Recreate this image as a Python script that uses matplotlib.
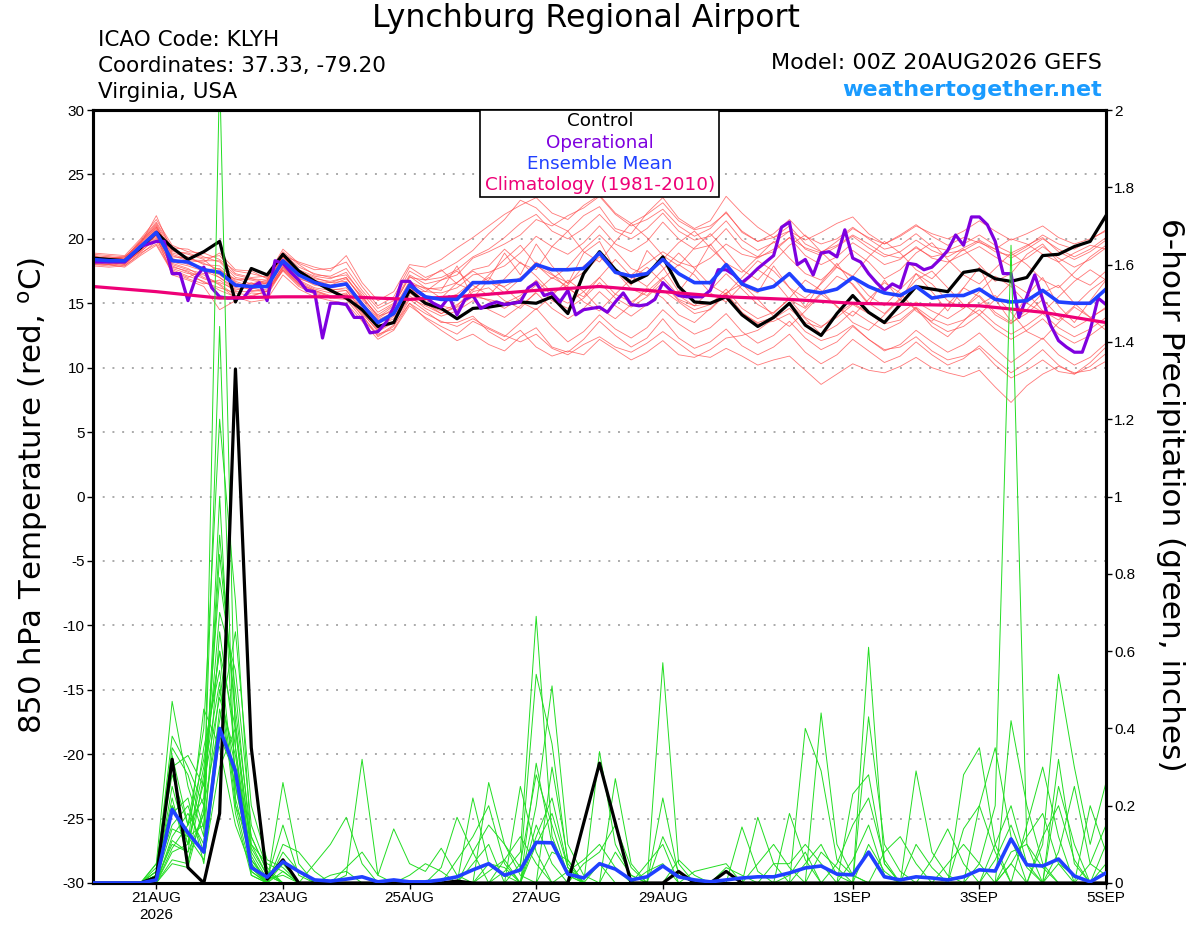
import numpy as np
import matplotlib
matplotlib.use("Agg")
import matplotlib.pyplot as plt
from matplotlib.patches import Rectangle

plt.rcParams['font.family'] = ['Liberation Sans', 'DejaVu Sans']
plt.rcParams['mathtext.default'] = 'regular'
plt.rcParams['mathtext.fontset'] = 'dejavusans'
HDR = ['DejaVu Sans']

# ---------------- data ----------------
title = "Lynchburg Regional Airport"
info_lines = ["ICAO Code: KLYH", "Coordinates: 37.33, -79.20", "Virginia, USA"]
model_text = "Model: 00Z 20AUG2026 GEFS"
site_text = "weathertogether.net"

n6 = 65  # 6-hourly steps, 20AUG 00Z .. 05SEP 00Z
xtick_days = [1, 3, 5, 7, 9, 12, 14, 16]
xtick_labels = ["21AUG\n2026", "23AUG", "25AUG", "27AUG", "29AUG", "1SEP", "3SEP", "5SEP"]
temp_ticks = [-30, -25, -20, -15, -10, -5, 0, 5, 10, 15, 20, 25, 30]
precip_ticks = [0, 0.2, 0.4, 0.6, 0.8, 1.0, 1.2, 1.4, 1.6, 1.8, 2.0]
precip_ticklabels = ["0", "0.2", "0.4", "0.6", "0.8", "1", "1.2", "1.4", "1.6", "1.8", "2"]

control_temp = [18.5, 18.4, 18.3, 19.3, 20.5, 19.3, 18.4, 19.0, 19.8, 15.1, 17.7, 17.2, 18.8,
                17.5, 16.7, 16.0, 15.4, 14.5, 13.2, 13.5, 16.0, 15.0, 14.6, 13.8, 14.6, 14.7,
                14.9, 15.1, 15.0, 15.5, 14.2, 17.3, 19.0, 17.6, 16.6, 17.2, 18.6, 16.3, 15.1,
                15.0, 15.5, 14.1, 13.2, 13.9, 15.0, 13.3, 12.5, 14.2, 15.6, 14.3, 13.5, 14.9,
                16.3, 16.1, 15.9, 17.4, 17.6, 16.9, 16.7, 17.0, 18.7, 18.8, 19.4, 19.8, 21.8]

mean_temp = [18.4, 18.3, 18.3, 19.4, 20.5, 18.3, 18.2, 17.6, 17.4, 16.4, 16.3, 16.3, 18.3,
             17.2, 16.6, 16.3, 16.5, 14.9, 13.5, 14.2, 16.4, 15.5, 15.3, 15.3, 16.6, 16.6,
             16.7, 16.8, 18.0, 17.6, 17.6, 17.7, 18.9, 17.4, 17.1, 17.3, 18.4, 17.3, 16.6,
             16.6, 18.0, 16.5, 16.0, 16.3, 17.3, 16.0, 15.8, 16.1, 17.0, 16.3, 15.8, 15.6,
             16.3, 15.4, 15.6, 15.6, 16.1, 15.3, 15.1, 15.2, 16.0, 15.1, 15.0, 15.0, 16.1]

# operational run, 3-hourly (129 values)
oper_temp = [18.2, 18.2, 18.2, 18.2, 18.2, 18.8, 19.4, 19.6, 19.8, 19.8, 17.3, 17.3, 15.2,
             17.0, 17.8, 16.2, 15.5, 15.4, 15.4, 15.4, 16.2, 16.6, 15.2, 18.3, 18.1, 17.4,
             16.8, 16.0, 15.9, 12.3, 15.0, 15.0, 14.9, 13.9, 13.9, 12.7, 12.8, 13.5, 14.7,
             16.7, 16.7, 15.9, 15.5, 15.0, 14.7, 15.5, 14.1, 15.3, 15.6, 14.6, 14.9, 15.1,
             14.9, 15.0, 15.1, 16.2, 16.6, 15.6, 15.8, 15.1, 16.0, 14.1, 14.5, 14.6, 14.7,
             14.3, 15.1, 15.8, 14.9, 14.8, 14.9, 15.3, 16.6, 16.0, 15.6, 15.5, 15.5, 15.5,
             16.0, 17.6, 17.6, 17.2, 16.6, 17.1, 17.7, 18.2, 18.7, 20.9, 21.3, 18.0, 18.4,
             17.2, 18.9, 19.0, 18.6, 20.7, 18.5, 18.2, 17.3, 16.6, 16.0, 16.5, 16.2, 18.1,
             18.0, 17.6, 17.8, 18.4, 19.1, 20.3, 19.5, 21.7, 21.7, 21.1, 19.8, 17.3, 17.3,
             13.9, 15.5, 17.2, 15.3, 13.3, 12.1, 11.6, 11.2, 11.2, 12.9, 15.4, 14.9]

clim_days = [0, 1, 2, 3, 4, 5, 6, 7, 8, 9, 10, 11, 12, 13, 14, 15, 16]
clim_temp = [16.3, 15.9, 15.4, 15.5, 15.5, 15.3, 15.6, 16.0, 16.3, 15.9, 15.5, 15.3, 15.0,
             14.9, 14.8, 14.3, 13.5]

member_temps = [
    [18.6, 18.5, 18.4, 19.8, 21.0, 18.9, 18.6, 18.0, 17.9, 16.8, 16.9, 16.8, 18.9,
     17.8, 17.3, 17.0, 17.2, 15.8, 14.3, 15.0, 17.2, 16.5, 16.8, 17.2, 18.5, 19.0,
     19.6, 20.3, 21.5, 21.0, 21.8, 22.4, 23.3, 21.9, 21.0, 21.5, 22.3, 21.0, 20.2,
     20.8, 22.1, 20.5, 19.8, 20.1, 21.0, 19.6, 19.0, 19.5, 20.3, 19.6, 18.8, 18.5,
     19.3, 18.6, 18.9, 19.1, 19.8, 19.0, 18.7, 19.4, 20.3, 19.6, 19.2, 19.9, 20.7],
    [18.2, 18.0, 18.1, 19.0, 20.0, 17.8, 17.5, 16.9, 16.5, 15.6, 15.4, 15.6, 17.6,
     16.5, 15.9, 15.5, 15.6, 14.0, 12.6, 13.0, 15.0, 14.2, 13.6, 13.2, 13.8, 13.1,
     12.5, 12.0, 12.6, 11.5, 11.0, 11.8, 12.4, 11.6, 11.2, 11.9, 12.8, 11.9, 11.0,
     10.8, 11.5, 10.9, 10.2, 10.6, 10.9, 9.8, 8.7, 9.5, 10.3, 9.8, 9.6, 10.1,
     10.8, 10.0, 9.6, 9.3, 9.8, 8.5, 7.3, 8.6, 9.5, 10.1, 9.6, 9.8, 10.5],
    [18.8, 18.7, 18.6, 19.6, 21.8, 19.0, 18.9, 18.5, 18.7, 17.3, 17.0, 17.1, 19.2,
     18.1, 17.6, 17.7, 18.2, 16.3, 14.8, 15.5, 17.8, 17.0, 17.5, 18.2, 19.1, 20.4,
     21.5, 23.0, 22.4, 21.2, 20.6, 21.8, 22.5, 20.8, 20.4, 22.0, 23.2, 21.6, 20.8,
     21.4, 23.3, 22.0, 20.9, 20.1, 20.6, 19.9, 20.5, 21.2, 21.7, 20.4, 19.6, 20.3,
     21.1, 20.2, 19.5, 20.1, 19.7, 19.2, 20.0, 19.6, 18.8, 18.2, 18.9, 19.5, 19.2],
    [18.0, 17.9, 18.0, 19.2, 20.2, 17.2, 16.8, 16.3, 14.5, 15.2, 15.8, 15.7, 17.7,
     16.6, 16.0, 15.5, 15.8, 14.2, 12.9, 13.6, 15.6, 14.6, 14.0, 14.4, 15.2, 14.5,
     13.9, 14.8, 15.8, 14.6, 13.8, 14.6, 15.9, 14.8, 14.0, 14.9, 16.0, 15.1, 14.2,
     14.5, 15.7, 14.2, 13.5, 13.9, 15.0, 13.8, 12.6, 13.3, 14.4, 13.6, 12.9, 13.5,
     14.6, 13.5, 12.8, 13.2, 14.1, 13.0, 12.2, 12.9, 13.8, 12.6, 11.9, 12.5, 13.4],
    [18.5, 18.4, 18.3, 19.5, 20.8, 18.5, 18.0, 17.8, 17.0, 16.0, 16.4, 16.7, 18.6,
     17.4, 16.9, 16.7, 17.0, 15.3, 13.8, 14.6, 16.7, 16.1, 16.2, 16.6, 17.6, 17.9,
     19.2, 18.1, 17.6, 19.4, 20.6, 19.0, 18.2, 19.8, 21.2, 20.1, 18.7, 17.9, 19.3,
     20.4, 19.1, 17.6, 16.8, 18.2, 19.5, 20.3, 19.0, 17.8, 17.1, 18.6, 19.8, 18.9,
     17.6, 16.9, 18.1, 19.2, 18.0, 16.7, 17.3, 18.8, 19.6, 18.2, 17.0, 16.4, 17.5],
    [18.3, 18.2, 18.2, 19.1, 20.4, 18.0, 17.6, 17.3, 17.5, 16.5, 16.0, 15.9, 17.9,
     16.8, 16.2, 16.0, 16.2, 14.6, 13.2, 13.8, 16.1, 15.2, 14.8, 14.5, 15.9, 16.2,
     15.2, 14.6, 15.9, 17.0, 16.3, 15.1, 14.4, 15.7, 16.9, 17.8, 16.6, 15.3, 14.8,
     16.0, 17.3, 16.1, 14.9, 14.2, 15.4, 16.8, 16.0, 14.7, 14.0, 15.3, 16.6, 15.8,
     14.4, 13.6, 14.9, 16.2, 15.5, 14.1, 13.4, 14.5, 15.8, 16.4, 15.0, 13.9, 14.6],
    [17.9, 17.8, 17.9, 18.8, 19.8, 17.6, 17.1, 16.7, 16.0, 15.5, 15.1, 15.3, 17.2,
     16.1, 15.5, 15.2, 15.0, 13.6, 12.2, 12.9, 14.8, 13.9, 13.2, 12.6, 13.6, 13.0,
     12.4, 13.5, 14.6, 13.2, 12.0, 12.8, 14.1, 13.0, 12.3, 13.1, 14.5, 13.4, 12.6,
     13.1, 14.2, 12.8, 11.9, 12.5, 13.6, 12.3, 11.4, 12.0, 13.2, 12.2, 11.3, 11.8,
     12.9, 12.0, 11.2, 11.8, 12.7, 11.5, 10.4, 11.3, 12.3, 11.0, 10.2, 10.8, 11.9],
    [18.7, 18.6, 18.5, 19.9, 21.3, 19.3, 19.2, 18.6, 18.2, 17.0, 16.8, 16.5, 18.5,
     17.3, 16.8, 16.4, 16.9, 15.5, 14.0, 14.4, 16.6, 15.9, 15.8, 16.2, 17.2, 17.4,
     17.9, 18.9, 20.2, 19.4, 18.8, 19.7, 21.0, 19.6, 19.0, 19.8, 21.3, 20.0, 19.2,
     19.5, 20.8, 19.3, 18.6, 19.0, 20.1, 18.7, 18.0, 18.6, 19.7, 18.9, 18.0, 18.4,
     19.4, 18.5, 18.2, 18.8, 19.4, 18.6, 17.9, 18.5, 19.4, 18.5, 17.8, 18.4, 19.3],
    [18.1, 18.0, 18.2, 19.3, 20.6, 18.2, 17.9, 17.5, 17.0, 16.2, 16.6, 16.2, 18.0,
     16.9, 16.5, 16.1, 16.0, 14.4, 13.0, 14.0, 16.0, 15.9, 16.8, 17.5, 16.4, 15.6,
     16.9, 18.2, 17.1, 15.8, 16.4, 17.9, 18.8, 17.5, 16.1, 15.6, 16.9, 18.0, 17.2,
     15.8, 15.1, 16.4, 17.6, 16.8, 15.3, 14.6, 15.8, 17.1, 16.5, 15.0, 14.2, 15.4,
     16.8, 17.5, 16.2, 14.9, 14.1, 15.3, 16.6, 15.8, 14.4, 13.7, 14.8, 16.0, 16.9],
    [18.4, 18.3, 18.1, 19.0, 20.1, 17.9, 17.4, 16.6, 16.2, 15.8, 15.6, 15.9, 17.5,
     16.3, 15.7, 15.4, 15.3, 13.8, 12.5, 13.3, 15.0, 13.8, 12.9, 12.1, 12.6, 11.8,
     11.3, 12.4, 13.1, 11.6, 11.2, 12.2, 13.6, 12.5, 11.6, 12.3, 13.8, 12.3, 11.5,
     12.0, 13.0, 11.7, 11.0, 11.6, 12.6, 11.2, 10.3, 11.0, 12.2, 11.3, 10.4, 10.9,
     12.0, 11.0, 10.2, 10.7, 11.7, 10.6, 9.6, 10.4, 11.4, 10.2, 9.5, 10.1, 11.1],
    [18.9, 18.8, 18.7, 20.0, 21.5, 19.5, 19.0, 18.9, 18.4, 17.5, 17.3, 17.0, 19.0,
     18.0, 17.2, 17.1, 17.7, 16.0, 14.6, 15.2, 17.5, 16.8, 17.0, 17.6, 18.6, 19.2,
     20.1, 21.2, 21.9, 20.6, 20.0, 20.8, 21.9, 20.6, 20.0, 20.8, 22.0, 20.6, 19.9,
     20.2, 21.4, 19.9, 19.1, 19.7, 20.6, 19.2, 18.7, 19.4, 20.2, 19.3, 18.6, 19.0,
     19.9, 19.1, 18.6, 19.3, 19.9, 19.2, 18.5, 19.2, 20.0, 19.2, 18.6, 19.2, 20.1],
    [18.2, 18.1, 17.9, 18.9, 19.6, 17.5, 17.0, 17.6, 17.7, 16.6, 16.1, 16.4, 18.1,
     17.1, 16.6, 16.3, 16.6, 15.1, 13.6, 14.2, 16.3, 15.0, 14.2, 14.8, 16.1, 17.0,
     16.2, 15.1, 14.5, 15.6, 16.8, 15.9, 14.6, 13.8, 14.9, 16.2, 15.4, 14.1, 13.5,
     14.6, 15.8, 16.5, 15.3, 14.0, 13.2, 14.4, 15.7, 14.8, 13.5, 12.9, 14.1, 15.3,
     14.6, 13.2, 12.4, 13.6, 14.9, 15.6, 14.3, 12.8, 12.2, 13.5, 14.7, 13.9, 12.9],
    [18.6, 18.4, 18.6, 19.7, 21.1, 18.7, 18.3, 18.2, 18.9, 17.6, 17.5, 16.9, 18.8,
     17.6, 17.1, 16.9, 17.4, 15.6, 13.9, 14.8, 17.1, 16.2, 16.0, 17.9, 15.4, 16.8,
     18.9, 17.2, 19.6, 17.9, 16.5, 18.9, 19.8, 17.6, 16.4, 19.1, 17.8, 15.9, 17.5,
     19.6, 18.0, 16.4, 15.8, 17.9, 16.2, 14.7, 16.6, 18.1, 16.4, 14.9, 16.8, 15.2,
     17.3, 15.9, 14.4, 16.2, 17.8, 15.3, 13.6, 15.6, 17.0, 14.8, 13.5, 15.2, 16.8],
    [18.0, 18.0, 17.8, 18.7, 19.5, 17.4, 16.9, 16.5, 16.8, 15.9, 15.9, 16.1, 17.8,
     16.7, 16.1, 15.8, 16.0, 14.5, 13.1, 13.6, 15.8, 14.9, 14.4, 14.9, 15.7, 15.2,
     14.6, 15.4, 16.4, 15.2, 14.6, 15.4, 16.6, 15.4, 14.7, 15.5, 16.6, 15.2, 14.5,
     14.9, 16.1, 14.6, 13.8, 14.3, 15.3, 13.9, 13.2, 13.9, 14.9, 14.2, 13.4, 13.7,
     14.7, 13.8, 13.3, 13.7, 14.5, 13.4, 12.6, 13.3, 14.2, 13.1, 12.4, 13.0, 13.9],
    [18.5, 18.6, 18.4, 19.6, 20.9, 18.8, 18.4, 18.3, 18.3, 17.2, 16.9, 16.6, 18.7,
     18.2, 17.8, 17.5, 18.7, 16.6, 15.2, 15.9, 18.0, 17.8, 18.4, 19.3, 20.1, 21.0,
     21.9, 22.6, 23.2, 22.0, 21.5, 22.6, 23.4, 22.0, 21.2, 21.9, 22.8, 21.4, 20.7,
     21.0, 22.0, 20.6, 19.8, 20.4, 21.5, 20.2, 19.6, 20.0, 20.9, 20.0, 19.2, 19.5,
     20.4, 19.4, 19.1, 19.6, 20.3, 19.5, 18.9, 19.5, 20.1, 19.0, 18.4, 19.0, 19.9],
    [18.3, 18.1, 18.3, 19.2, 20.3, 18.1, 17.7, 17.0, 16.6, 16.1, 16.2, 15.9, 17.8,
     16.5, 16.0, 15.6, 15.4, 14.1, 12.4, 13.2, 15.3, 14.4, 13.5, 13.5, 14.0, 12.8,
     12.1, 12.9, 11.6, 10.9, 11.3, 11.0, 12.2, 11.4, 10.6, 11.2, 12.1, 11.0, 10.8,
     11.4, 12.3, 12.5, 12.9, 13.8, 14.6, 13.5, 13.1, 14.2, 15.0, 14.3, 13.6, 14.2,
     15.1, 14.4, 13.8, 14.6, 15.6, 14.3, 13.5, 14.2, 15.3, 14.0, 13.1, 13.8, 14.7],
    [18.7, 18.4, 18.5, 19.8, 21.2, 19.1, 18.8, 18.4, 17.3, 16.9, 16.5, 16.8, 18.6,
     17.5, 17.0, 16.6, 17.0, 15.4, 14.1, 14.9, 17.0, 16.8, 17.6, 16.5, 16.0, 17.2,
     18.4, 19.5, 18.0, 16.9, 17.8, 19.2, 20.3, 19.1, 17.7, 17.2, 18.4, 19.7, 20.6,
     19.3, 18.1, 17.4, 18.6, 19.8, 18.5, 17.3, 16.8, 17.9, 19.1, 18.2, 16.9, 17.6,
     18.9, 19.7, 18.4, 17.2, 16.5, 17.7, 18.9, 18.0, 16.8, 16.2, 17.4, 18.6, 19.5],
    [18.4, 18.3, 18.4, 19.4, 20.7, 18.4, 18.1, 17.7, 17.2, 16.3, 16.5, 16.5, 18.2,
     17.0, 16.4, 16.2, 16.4, 14.8, 13.4, 14.1, 16.2, 15.5, 15.3, 15.7, 16.7, 16.6,
     16.3, 17.0, 17.9, 17.2, 16.6, 17.4, 18.6, 17.5, 17.2, 18.1, 19.0, 18.2, 17.8,
     18.5, 19.6, 18.8, 18.5, 19.2, 20.1, 19.3, 18.9, 19.8, 20.8, 20.1, 19.6, 20.2,
     21.0, 20.4, 20.0, 20.6, 21.4, 20.6, 19.9, 20.4, 21.0, 20.1, 19.6, 20.0, 20.6],
    [18.1, 18.2, 18.0, 19.1, 20.3, 17.7, 17.3, 17.2, 16.4, 15.4, 15.5, 16.0, 17.6,
     16.4, 15.8, 15.4, 15.7, 14.3, 12.8, 13.5, 15.4, 14.8, 14.2, 14.7, 15.5, 15.3,
     15.0, 15.6, 16.8, 15.6, 15.0, 15.9, 17.0, 15.7, 15.1, 15.9, 17.0, 15.6, 14.8,
     15.0, 15.8, 14.3, 13.4, 13.6, 14.2, 12.8, 12.1, 12.5, 13.3, 12.2, 11.4, 11.6,
     12.4, 11.3, 10.6, 10.9, 11.5, 10.2, 9.2, 9.8, 10.6, 9.7, 9.5, 10.4, 11.6],
    [18.6, 18.5, 18.6, 19.7, 20.9, 18.6, 18.5, 18.1, 17.6, 16.7, 16.3, 16.6, 18.4,
     17.2, 16.7, 16.6, 16.7, 15.0, 13.7, 14.3, 16.5, 16.2, 15.4, 16.6, 17.5, 16.7,
     15.8, 16.9, 18.2, 17.3, 16.1, 15.5, 17.0, 18.4, 17.1, 16.3, 17.6, 18.9, 17.7,
     16.4, 15.7, 17.0, 18.3, 17.5, 16.2, 15.4, 16.5, 17.8, 17.0, 15.6, 14.8, 16.1,
     17.3, 16.5, 15.2, 14.6, 15.9, 17.1, 16.3, 15.0, 14.3, 15.5, 16.7, 17.6, 16.8],
]

control_precip = [0, 0, 0, 0, 0.015, 0.32, 0.04, 0, 0.18, 1.33, 0.35, 0.01, 0.06,
                  0, 0, 0, 0, 0, 0, 0, 0, 0, 0, 0.005, 0, 0,
                  0, 0, 0, 0, 0, 0.155, 0.31, 0.155, 0, 0, 0, 0.03, 0,
                  0, 0.03, 0, 0, 0, 0, 0, 0, 0, 0, 0, 0, 0,
                  0, 0, 0, 0, 0, 0, 0, 0, 0, 0, 0, 0, 0]

mean_precip = [0, 0, 0, 0, 0.008, 0.19, 0.13, 0.08, 0.40, 0.29, 0.04, 0.015, 0.055,
               0.03, 0.008, 0.005, 0.01, 0.016, 0.003, 0.008, 0.003, 0.003, 0.008, 0.016, 0.034, 0.05,
               0.02, 0.034, 0.105, 0.104, 0.023, 0.013, 0.05, 0.036, 0.008, 0.016, 0.044, 0.016, 0.008,
               0.003, 0.008, 0.013, 0.016, 0.016, 0.026, 0.039, 0.044, 0.023, 0.021, 0.08, 0.016, 0.008,
               0.016, 0.013, 0.008, 0.016, 0.034, 0.031, 0.114, 0.047, 0.044, 0.062, 0.018, 0.003, 0.026]

# ensemble member precipitation: {6-hour step: inches}, all other steps are 0
member_precip = [
    {4: .05, 5: .47, 6: .25, 7: .12, 8: 2.1, 9: .35, 10: .06, 11: .01, 12: .02, 26: .03, 27: .08,
     28: .69, 29: .12, 30: .02, 45: .05, 46: .1, 47: .02, 58: .05},
    {4: .03, 5: .38, 6: .3, 7: .2, 8: 1.44, 9: .2, 10: .03, 12: .26, 13: .05, 24: .05, 25: .1,
     28: .2, 29: .51, 30: .1, 31: .02, 49: .61, 50: .05, 61: .05, 62: .02},
    {4: .02, 5: .33, 6: .15, 7: .4, 8: 1.2, 9: .73, 10: .1, 11: .02, 16: .02, 17: .32, 18: .02,
     19: .14, 20: .05, 21: .03, 22: .09, 23: .02, 36: .57, 37: .05, 56: .05, 57: .2, 58: 1.65, 59: .1},
    {4: .04, 5: .3, 6: .33, 7: .25, 8: .79, 9: .5, 10: .08, 11: .01, 12: .15, 13: .02, 25: .26,
     26: .1, 27: .04, 28: .54, 29: .36, 30: .05, 46: .44, 47: .1, 48: .02, 60: .1, 61: .54,
     62: .3, 63: .1, 64: .26},
    {4: .01, 5: .25, 6: .1, 7: .3, 8: .6, 9: .4, 10: .04, 14: .05, 15: .1, 16: .17, 17: .05,
     32: .34, 33: .1, 34: .02, 45: .4, 46: .29, 47: .06, 48: .02, 55: .28, 56: .35, 57: .1},
    {4: .02, 5: .2, 6: .12, 7: .15, 8: .5, 9: .3, 10: .12, 11: .03, 24: .22, 25: .05, 26: .02,
     28: .31, 29: .1, 30: .03, 33: .27, 34: .05, 49: .43, 50: .1, 51: .03, 58: .42, 59: .2, 60: .05},
    {4: .03, 5: .15, 6: .2, 7: .08, 8: .45, 9: .25, 10: .06, 12: .05, 22: .04, 23: .17, 24: .08,
     36: .22, 37: .02, 48: .23, 49: .28, 50: .05, 61: .32, 62: .05},
    {4: .01, 5: .1, 6: .08, 7: .35, 8: .55, 9: .2, 10: .1, 11: .05, 12: .03, 27: .25, 28: .08,
     42: .17, 43: .05, 52: .29, 53: .08, 54: .02, 63: .2, 64: .08},
    {5: .08, 6: .1, 7: .45, 8: .35, 9: .15, 10: .04, 29: .3, 30: .06, 36: .12, 37: .03, 44: .18,
     45: .06, 57: .1, 58: .2, 59: .05, 61: .25, 62: .1},
    {4: .02, 5: .22, 6: .06, 7: .18, 8: .9, 9: .42, 10: .07, 12: .1, 13: .08, 14: .03, 25: .05,
     26: .04, 28: .12, 29: .22, 30: .04, 41: .145, 42: .03, 55: .14, 56: .2, 57: .08, 64: .05},
    {5: .12, 6: .18, 7: .1, 8: .65, 9: .35, 10: .02, 31: .05, 32: .08, 33: .15, 34: .04, 47: .05,
     48: .15, 49: .22, 50: .06, 59: .15, 60: .3, 61: .12},
    {4: .05, 5: .28, 6: .15, 7: .22, 8: .7, 9: .55, 10: .15, 11: .04, 16: .04, 17: .08, 18: .02,
     26: .06, 27: .12, 28: .05, 38: .03, 39: .04, 40: .05, 53: .06, 54: .14, 55: .05},
    {5: .05, 6: .04, 7: .2, 8: .42, 9: .65, 10: .2, 11: .06, 12: .04, 24: .08, 25: .15, 26: .1,
     27: .02, 35: .05, 36: .1, 43: .05, 44: .05, 45: .1, 46: .05, 58: .08, 59: .1, 60: .04},
    {4: .02, 5: .18, 6: .22, 7: .05, 8: .38, 9: .28, 10: .03, 29: .08, 30: .06, 32: .05, 50: .08,
     51: .12, 52: .05, 56: .2, 57: .35, 58: .12},
    {4: .03, 5: .35, 6: .28, 7: .14, 8: 1.0, 9: .25, 10: .05, 12: .08, 13: .03, 20: .02, 21: .05,
     22: .03, 28: .15, 29: .05, 46: .08, 47: .04, 61: .08, 62: .25, 63: .05, 64: .02},
    {5: .06, 6: .05, 7: .28, 8: .52, 9: .18, 10: .02, 23: .06, 24: .12, 25: .2, 26: .05, 33: .08,
     34: .02, 40: .04, 41: .02, 49: .1, 50: .03, 58: .05, 59: .12, 60: .18, 61: .05},
    {4: .01, 5: .14, 6: .12, 7: .06, 8: .3, 9: .4, 10: .09, 11: .02, 27: .05, 28: .28, 29: .15,
     30: .02, 37: .06, 38: .02, 52: .1, 53: .04, 63: .05, 64: .15},
    {5: .09, 6: .15, 7: .32, 8: .6, 9: .22, 10: .05, 15: .02, 16: .03, 30: .03, 31: .06, 32: .1,
     33: .04, 44: .02, 45: .08, 57: .06, 58: .15, 59: .04},
    {4: .02, 5: .2, 6: .1, 7: .26, 8: .48, 9: .33, 10: .04, 12: .03, 25: .03, 26: .06, 35: .03,
     36: .05, 48: .06, 49: .15, 50: .02, 60: .12, 61: .2, 62: .06},
    {5: .11, 6: .08, 7: .18, 8: .85, 9: .45, 10: .12, 11: .03, 28: .1, 29: .18, 30: .04, 42: .05,
     43: .1, 44: .04, 54: .05, 55: .1, 56: .05, 64: .1},
]

# ---------------- styles ----------------
RED = '#FF4A4A'
GREEN = '#22DD22'
BLACK = '#000000'
PURPLE = '#7F00DF'
BLUE = '#2040FF'
PINK = '#EE0077'
SITE = '#1A9BFF'

t6 = np.arange(n6) / 4.0          # days since 20AUG 00Z
t3 = np.arange(len(oper_temp)) / 8.0

fig = plt.figure(figsize=(12, 9.27), dpi=100)
ax = fig.add_axes([93 / 1200, 44 / 927, (1106 - 93) / 1200, (883 - 110) / 927])
ax2 = ax.twinx()

# temperature
for m in member_temps:
    ax.plot(t6, m, color=RED, lw=0.6, alpha=0.75, zorder=2)
ax.plot(t6, control_temp, color=BLACK, lw=2.3, zorder=4)
ax.plot(t3, oper_temp, color=PURPLE, lw=2.3, zorder=5)
ax.plot(clim_days, clim_temp, color=PINK, lw=2.3, zorder=6)
ax.plot(t6, mean_temp, color=BLUE, lw=2.6, zorder=7)

# precipitation
for d in member_precip:
    p = np.zeros(n6)
    for k, v in d.items():
        p[k] = v
    ax2.plot(t6, p, color=GREEN, lw=0.7, zorder=2)
ax2.plot(t6, control_precip, color=BLACK, lw=2.3, zorder=4)
ax2.plot(t6, mean_precip, color=BLUE, lw=2.6, zorder=5)

ax.set_xlim(0, 16)
ax.set_ylim(-30, 30)
ax2.set_ylim(0, 2)
ax.set_yticks(temp_ticks)
ax.set_yticklabels([str(v) for v in temp_ticks])
ax2.set_yticks(precip_ticks)
ax2.set_yticklabels(precip_ticklabels)
ax.set_xticks(xtick_days)
ax.set_xticklabels(xtick_labels)

for yv in temp_ticks[1:-1]:
    ax.axhline(yv, color='#AAAAAA', lw=1.4, ls=(0, (1, 4)), zorder=1)

for a in (ax, ax2):
    for s in a.spines.values():
        s.set_linewidth(2.2)
    a.tick_params(axis='both', direction='out', length=4, width=1, labelsize=11, pad=2)

# titles and info
fig.text(586 / 1200, 1 - 18 / 927, title, ha='center', va='center', fontsize=22.7, family=HDR)
for i, line in enumerate(info_lines):
    fig.text(98 / 1200, 1 - (40 + 26 * i) / 927, line, ha='left', va='center', fontsize=15.5,
             family=HDR)
fig.text(1102 / 1200, 1 - 63 / 927, model_text, ha='right', va='center', fontsize=16, family=HDR)
fig.text(1102 / 1200, 1 - 90 / 927, site_text, ha='right', va='center', fontsize=16,
         fontweight='bold', color=SITE, family=HDR)

fig.text(33 / 1200, 1 - 495 / 927, r'850 hPa Temperature (red, $^o$C)', rotation=90,
         ha='center', va='center', fontsize=22.2, family=HDR)
fig.text(1170 / 1200, 1 - 495 / 927, '6-hour Precipitation (green, inches)', rotation=-90,
         ha='center', va='center', fontsize=22.5, family=HDR)

# legend box
fig.patches.append(Rectangle((480 / 1200, 1 - 197 / 927), (719 - 480) / 1200, (197 - 110) / 927,
                             transform=fig.transFigure, facecolor='white', edgecolor='black',
                             lw=1.2, zorder=5))
leg = [("Control", BLACK), ("Operational", PURPLE), ("Ensemble Mean", BLUE),
       ("Climatology (1981-2010)", PINK)]
for i, (txt, col) in enumerate(leg):
    fig.text(600 / 1200, 1 - (121 + 21.5 * i) / 927, txt, ha='center', va='center',
             fontsize=13.2, color=col, zorder=6, family=HDR)

fig.savefig('out.png', dpi=100)
